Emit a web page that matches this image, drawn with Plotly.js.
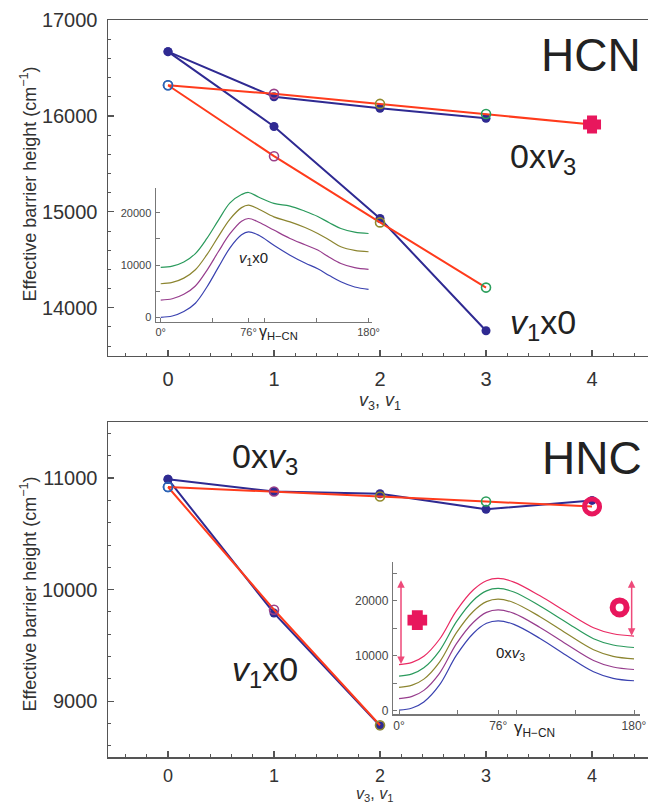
<!DOCTYPE html>
<html><head><meta charset="utf-8">
<script src="https://cdn.plot.ly/plotly-3.0.1.min.js"></script>
<style>html,body{margin:0;padding:0;background:#fff}#chart{width:648px;height:806px}</style>
</head><body><div id="chart"></div>
<script>
// ---------- data ----------
const vQuanta3 = [0, 1, 2, 3];
const vQuanta4 = [0, 1, 2, 3, 4];
const vQuanta2 = [0, 1, 2];

// HCN (top panel)
const hcnNavy0xv3 = [16670, 16200, 16080, 15975];
const hcnNavyV1x0 = [16670, 15890, 14930, 13760];
const hcnRed0xv3  = [16320, 16230, 16125, 16020, 15910];
const hcnRedV1x0  = [16320, 15580, 14890, 14210];

// HNC (bottom panel)
const hncNavy0xv3 = [10990, 10880, 10860, 10720, 10800];
const hncNavyV1x0 = [10990, 9790, 8780];
const hncRed0xv3  = [10920, 10880, 10835, 10790, 10745];
const hncRedV1x0  = [10920, 9820, 8785];

// inset: HCN v1x0 bending profiles
const hcnAngles = [0, 10, 20, 30, 40, 50, 60, 70, 76, 85, 98, 112, 125, 136, 146, 156, 168, 180];
const hcnCurve0 = [0, 250, 1100, 2700, 5800, 9600, 13300, 15800, 16370, 15700, 13800, 11900, 10400, 9300, 8000, 6800, 5800, 5350];
const hcnCurve1 = [3300, 3550, 4400, 6000, 9000, 12600, 16000, 18400, 18920, 18200, 16700, 15100, 13900, 12870, 11500, 10300, 9500, 9170];
const hcnCurve2 = [6430, 6680, 7500, 9100, 12000, 15500, 18800, 21000, 21470, 20700, 19240, 18280, 17200, 16050, 14800, 13500, 12800, 12550];
const hcnCurve3 = [9550, 9800, 10600, 12200, 15100, 18600, 21900, 23500, 23900, 23000, 21800, 21300, 20300, 19300, 18100, 17000, 16300, 16050];

// inset: HNC 0xv3 bending profiles
const hncAngles = [0, 10, 19, 31, 44, 57, 67, 76, 88, 108, 128, 149, 164, 180];
const hncCurve0 = [100, 500, 1600, 4700, 10100, 14100, 15900, 16360, 15700, 13150, 10100, 7100, 5900, 5450];
const hncCurve1 = [2200, 2600, 3700, 6800, 12200, 16100, 17900, 18360, 17700, 15150, 12150, 9150, 7950, 7500];
const hncCurve2 = [4250, 4650, 5750, 8850, 14200, 18100, 19850, 20300, 19650, 17100, 14100, 11100, 9900, 9450];
const hncCurve3 = [6300, 6700, 7800, 10900, 16200, 20100, 21800, 22240, 21600, 19050, 16100, 13100, 11950, 11500];
const hncCurve4 = [8400, 8800, 9900, 13000, 18200, 22000, 23650, 24060, 23400, 20900, 18000, 15100, 14000, 13580];

const mainTicksTop = [14000, 15000, 16000, 17000];
const mainTicksTopText = ['14000', '15000', '16000', '17000'];
const mainTicksBot = [9000, 10000, 11000];
const mainTicksBotText = ['9000', '10000', '11000'];
const xTickVals = [0, 1, 2, 3, 4];
const xTickText = ['0', '1', '2', '3', '4'];
const insetYTicks = [0, 10000, 20000];
const insetYText = ['0', '10000', '20000'];
const insetXTicks = [0, 76, 180];
const insetXText = ['0°', '76°', '180°'];

// ---------- style ----------
const NAVY = '#2f2a92', RED = '#ff3b1c', CRIM = '#e8175d';
const C_BLUE = '#2c63b5', C_PURP = '#9a3f88', C_OLIVE = '#918a2c', C_GREEN = '#2c9e5c';
const curveCols = ['#3a42b0', '#973d8d', '#8c8530', '#2a9a5c', '#ea2a63'];
const FONT = 'Liberation Sans, Arial, sans-serif';

function lineTrace(x, y, color, xa, ya, marker) {
  marker.opacity = 1;
  return {x: x, y: y, xaxis: xa, yaxis: ya, type: 'scatter', mode: 'lines+markers',
    line: {color: color, width: 2}, marker: marker, hoverinfo: 'skip', cliponaxis: false};
}
function navyMarker() { return {size: 9, color: NAVY, line: {width: 0}}; }
const ringCols3 = [C_BLUE, C_PURP, C_OLIVE, C_GREEN];

const traces = [];
// top panel
traces.push(lineTrace(vQuanta3, hcnNavy0xv3, NAVY, 'x', 'y', navyMarker()));
traces.push(lineTrace(vQuanta3, hcnNavyV1x0, NAVY, 'x', 'y', navyMarker()));
traces.push(lineTrace(vQuanta3, hcnRedV1x0, RED, 'x', 'y',
  {symbol: 'circle-open', size: 9, color: ringCols3, line: {width: 1.6}}));
traces.push(lineTrace(vQuanta4, hcnRed0xv3, RED, 'x', 'y',
  {symbol: ['circle-open','circle-open','circle-open','circle-open','cross'],
   size: [9, 9, 9, 9, 10], color: ringCols3.concat([CRIM]),
   line: {width: [1.6, 1.6, 1.6, 1.6, 6], color: ringCols3.concat([CRIM])}}));
// bottom panel
traces.push(lineTrace(vQuanta4, hncNavy0xv3, NAVY, 'x2', 'y2', navyMarker()));
traces.push(lineTrace(vQuanta2, hncNavyV1x0, NAVY, 'x2', 'y2', navyMarker()));
traces.push(lineTrace(vQuanta2, hncRedV1x0, RED, 'x2', 'y2',
  {symbol: 'circle-open', size: 9, color: [C_BLUE, C_PURP, C_OLIVE], line: {width: 1.6}}));
traces.push(lineTrace(vQuanta4, hncRed0xv3, RED, 'x2', 'y2',
  {symbol: 'circle-open', size: [9, 9, 9, 9, 15], color: ringCols3.concat([CRIM]),
   line: {width: [1.6, 1.6, 1.6, 1.6, 5]}}));

// insets
[hcnCurve0, hcnCurve1, hcnCurve2, hcnCurve3].forEach(function (c, i) {
  traces.push({x: hcnAngles, y: c, xaxis: 'x3', yaxis: 'y3', type: 'scatter', mode: 'lines',
    line: {color: curveCols[i], width: 1.2, shape: 'spline', smoothing: 1}, hoverinfo: 'skip'});
});
[hncCurve0, hncCurve1, hncCurve2, hncCurve3, hncCurve4].forEach(function (c, i) {
  traces.push({x: hncAngles, y: c, xaxis: 'x4', yaxis: 'y4', type: 'scatter', mode: 'lines',
    line: {color: curveCols[i], width: 1.2, shape: 'spline', smoothing: 1}, hoverinfo: 'skip'});
});
// inset symbols (cross and ring keys)
traces.push({x: [14], y: [16480], xaxis: 'x4', yaxis: 'y4', type: 'scatter', mode: 'markers',
  marker: {symbol: 'cross', size: 11, color: CRIM, opacity: 1, line: {width: 6.5, color: CRIM}}, hoverinfo: 'skip'});
traces.push({x: [169], y: [18790], xaxis: 'x4', yaxis: 'y4', type: 'scatter', mode: 'markers',
  marker: {symbol: 'circle-open', size: 14, color: CRIM, opacity: 1, line: {width: 6}}, hoverinfo: 'skip'});

// ---------- axes ----------
function ypap(py) { return (757 - py) / 737; }
function xpap(px) { return (px - 108) / 540; }
const mainX = {
  range: [-0.566, 4.528], showline: true, linecolor: '#555', linewidth: 1.5, mirror: true,
  ticks: 'inside', ticklen: 6, tickwidth: 1.2, tickcolor: '#555', tickmode: 'array', tickvals: xTickVals, ticktext: xTickText,
  minor: {dtick: 0.2, tick0: 0, ticks: 'inside', ticklen: 3, tickwidth: 1, tickcolor: '#555'},
  showgrid: false, zeroline: false, tickfont: {family: FONT, size: 20, color: '#333'}, ticklabelstandoff: 5
};
function mainY(range, vals, text) {
  return {range: range, showline: true, linecolor: '#555', linewidth: 1.5, mirror: false,
    ticks: 'inside', ticklen: 6, tickwidth: 1.2, tickcolor: '#555', tickmode: 'array', tickvals: vals, ticktext: text,
    minor: {dtick: 200, tick0: 0, ticks: 'inside', ticklen: 3, tickwidth: 1, tickcolor: '#555'},
    showgrid: false, zeroline: false, tickfont: {family: FONT, size: 20, color: '#333'}, ticklabelstandoff: 5};
}
function insetX(domain, range, anchor, fs) {
  return {domain: domain, range: range, anchor: anchor, showline: true, linecolor: '#777', linewidth: 1.5,
    ticks: 'inside', ticklen: 4, tickcolor: '#777', tickmode: 'array', tickvals: insetXTicks, ticktext: insetXText,
    minor: {tickvals: [45, 90, 135], ticks: 'inside', ticklen: 4, tickcolor: '#777'},
    showgrid: false, zeroline: false, tickfont: {family: FONT, size: fs, color: '#444'}, ticklabelstandoff: 0};
}
function insetY(domain, range, anchor, fs) {
  return {domain: domain, range: range, anchor: anchor, showline: true, linecolor: '#777', linewidth: 1.5,
    ticks: 'inside', ticklen: 4, tickcolor: '#777', tickmode: 'array', tickvals: insetYTicks, ticktext: insetYText,
    minor: {tickvals: [5000, 15000, 25000], ticks: 'inside', ticklen: 4, tickcolor: '#777'},
    showgrid: false, zeroline: false, tickfont: {family: FONT, size: fs, color: '#444'}, ticklabelstandoff: 1};
}

const layout = {
  width: 648, height: 806, margin: {l: 108, r: 0, t: 20, b: 49},
  paper_bgcolor: '#fff', plot_bgcolor: 'rgba(0,0,0,0)', showlegend: false,
  font: {family: FONT, color: '#222'},
  xaxis: Object.assign({}, mainX, {domain: [0, 1], anchor: 'y'}),
  yaxis: Object.assign(mainY([13500, 17000], mainTicksTop, mainTicksTopText), {domain: [ypap(355.7), 1], anchor: 'x'}),
  xaxis2: Object.assign({}, mainX, {domain: [0, 1], anchor: 'y2', ticklabelstandoff: 2, tickfont: {family: FONT, size: 18, color: '#333'}}),
  yaxis2: Object.assign(mainY([8500, 11500], mainTicksBot, mainTicksBotText), {domain: [0, ypap(422.3)], anchor: 'x2'}),
  xaxis3: insetX([xpap(156), xpap(372)], [-4.1, 183], 'y3', 11),
  yaxis3: insetY([ypap(321.7), ypap(188.3)], [-840, 24700], 'x3', 11),
  xaxis4: insetX([xpap(393.3), xpap(640)], [-4.4, 184.6], 'y4', 12),
  yaxis4: insetY([ypap(714.3), ypap(562.3)], [-650, 27000], 'x4', 12),
  annotations: [
    {text: 'HCN', xref: 'x', yref: 'y', x: 3.99, y: 16635, showarrow: false, xanchor: 'center', yanchor: 'middle', font: {size: 46, color: '#222'}},
    {text: '0x<i>v</i><sub>3</sub>', xref: 'x', yref: 'y', x: 3.21, y: 15560, showarrow: false, xanchor: 'left', yanchor: 'middle', font: {size: 34, color: '#222'}},
    {text: '<i>v</i><sub>1</sub>x0', xref: 'x', yref: 'y', x: 3.21, y: 13830, showarrow: false, xanchor: 'left', yanchor: 'middle', font: {size: 34, color: '#222'}},
    {text: 'HNC', xref: 'x2', yref: 'y2', x: 4.0, y: 11180, showarrow: false, xanchor: 'center', yanchor: 'middle', font: {size: 46, color: '#222'}},
    {text: '0x<i>v</i><sub>3</sub>', xref: 'x2', yref: 'y2', x: 0.585, y: 11180, showarrow: false, xanchor: 'left', yanchor: 'middle', font: {size: 34, color: '#222'}},
    {text: '<i>v</i><sub>1</sub>x0', xref: 'x2', yref: 'y2', x: 0.585, y: 9270, showarrow: false, xanchor: 'left', yanchor: 'middle', font: {size: 34, color: '#222'}},
    {text: '<i>v</i><sub>1</sub>x0', xref: 'x3', yref: 'y3', x: 65.9, y: 11300, showarrow: false, xanchor: 'left', yanchor: 'middle', font: {size: 15, color: '#222'}},
    {text: '0x<i>v</i><sub>3</sub>', xref: 'x4', yref: 'y4', x: 72.8, y: 10500, showarrow: false, xanchor: 'left', yanchor: 'middle', font: {size: 15, color: '#222'}},
    {text: 'γ<sub>H−CN</sub>', xref: 'paper', yref: 'paper', x: xpap(257), y: ypap(333), showarrow: false, xanchor: 'left', yanchor: 'middle', font: {size: 16, color: '#222'}},
    {text: 'γ<sub>H−CN</sub>', xref: 'paper', yref: 'paper', x: xpap(512), y: ypap(729), showarrow: false, xanchor: 'left', yanchor: 'middle', font: {size: 17, color: '#222'}},
    {text: 'Effective barrier height (cm<sup>−1</sup>)', xref: 'paper', yref: 'paper', x: xpap(28.5), y: ypap(184), textangle: -90, showarrow: false, xanchor: 'center', yanchor: 'middle', font: {size: 18, color: '#333'}},
    {text: 'Effective barrier height (cm<sup>−1</sup>)', xref: 'paper', yref: 'paper', x: xpap(28.5), y: ypap(594), textangle: -90, showarrow: false, xanchor: 'center', yanchor: 'middle', font: {size: 18, color: '#333'}},
    {text: '<i>v</i><sub>3</sub>, <i>v</i><sub>1</sub>', xref: 'x', yref: 'paper', x: 2, y: ypap(401), showarrow: false, xanchor: 'center', yanchor: 'middle', font: {size: 18, color: '#333'}},
    {text: '<i>v</i><sub>3</sub>, <i>v</i><sub>1</sub>', xref: 'x2', yref: 'paper', x: 1.95, y: ypap(806), showarrow: false, xanchor: 'center', yanchor: 'bottom', font: {size: 16, color: '#333'}},
    // double-headed arrows in HNC inset
    {text: '', xref: 'x4', yref: 'y4', axref: 'x4', ayref: 'y4', x: 1.5, y: 8500, ax: 1.5, ay: 24000, showarrow: true,
     arrowside: 'end+start', arrowhead: 2, arrowsize: 1, arrowwidth: 1.5, arrowcolor: '#ee4a7a', standoff: 0, startstandoff: 0},
    {text: '', xref: 'x4', yref: 'y4', axref: 'x4', ayref: 'y4', x: 178.2, y: 13650, ax: 178.2, ay: 24000, showarrow: true,
     arrowside: 'end+start', arrowhead: 2, arrowsize: 1, arrowwidth: 1.5, arrowcolor: '#ee4a7a', standoff: 0, startstandoff: 0}
  ]
};

Plotly.newPlot('chart', traces, layout, {displayModeBar: false, staticPlot: true});
</script></body></html>
